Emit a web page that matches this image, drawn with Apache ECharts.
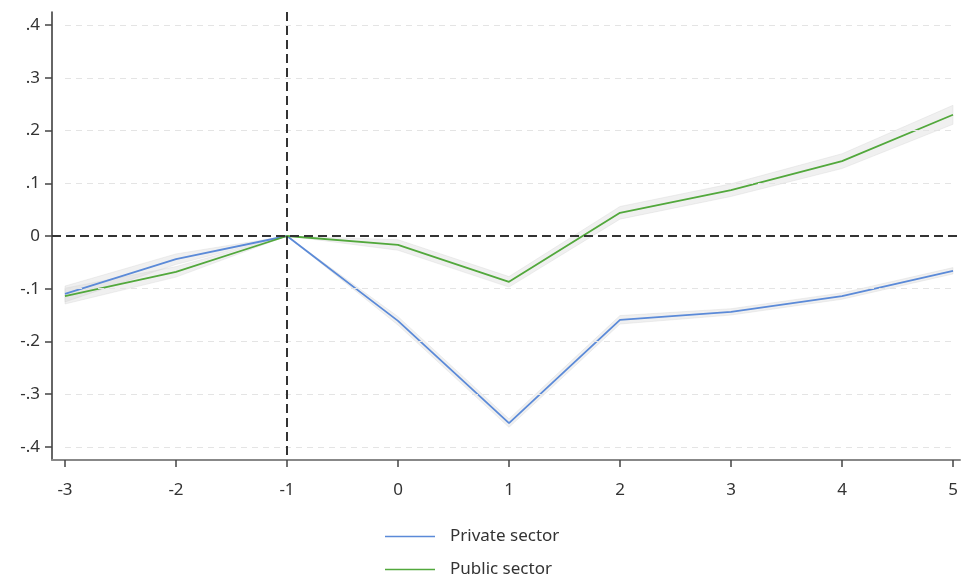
<!DOCTYPE html>
<html>
<head>
<meta charset="utf-8">
<script src="https://cdn.jsdelivr.net/npm/echarts@6/dist/echarts.min.js"></script>
<style>
  html, body { margin: 0; padding: 0; background: #fff; }
  #main { width: 964px; height: 577px; }
</style>
</head>
<body>
<div id="main"></div>
<script>
var years = [-3, -2, -1, 0, 1, 2, 3, 4, 5];
var yTicks = [-0.4, -0.3, -0.2, -0.1, 0, 0.1, 0.2, 0.3, 0.4];

var privEst = [-0.110, -0.044, 0, -0.161, -0.355, -0.159, -0.144, -0.114, -0.066];
var privLo  = [-0.125, -0.054, 0, -0.169, -0.363, -0.167, -0.150, -0.120, -0.072];
var privHi  = [-0.095, -0.034, 0, -0.153, -0.347, -0.151, -0.138, -0.108, -0.060];

var pubEst = [-0.114, -0.068, 0, -0.017, -0.087, 0.044, 0.087, 0.142, 0.230];
var pubLo  = [-0.129, -0.078, 0, -0.027, -0.097, 0.032, 0.075, 0.128, 0.212];
var pubHi  = [-0.099, -0.058, 0, -0.007, -0.077, 0.056, 0.099, 0.156, 0.248];

var FONT = 'Noto Sans';
var X_MIN = -3.117, X_MAX = 5.063;
var Y_MIN = -0.425, Y_MAX = 0.425;

function pairs(xs, ys) {
    return xs.map(function (x, i) { return [x, ys[i]]; });
}

function fmt(v) {
    if (Math.abs(v) < 1e-9) return '0';
    var s = Math.abs(v).toFixed(1).replace(/^0/, '');
    return (v < 0 ? '-' : '') + s;
}

function bandSeries(lo, hi) {
    return {
        type: 'custom',
        silent: true,
        z: 1,
        data: [0],
        renderItem: function (params, api) {
            var pts = [];
            years.forEach(function (x, i) { pts.push(api.coord([x, hi[i]])); });
            for (var i = years.length - 1; i >= 0; i--) pts.push(api.coord([years[i], lo[i]]));
            return {
                type: 'polygon',
                shape: { points: pts },
                style: { fill: 'rgba(205,205,205,0.3)', stroke: 'rgba(205,205,205,0.3)', lineWidth: 1 }
            };
        }
    };
}

function legendFor(name, top) {
    return {
        orient: 'vertical',
        left: 385,
        top: top,
        padding: 0,
        itemWidth: 50,
        itemHeight: 10,
        icon: 'path://M0,0 L50,0 L50,1.5 L0,1.5 Z',
        textStyle: { fontFamily: FONT, fontSize: 17, color: '#333', padding: [0, 0, 0, 10] },
        data: [name]
    };
}

var gridLines = yTicks.filter(function (v) { return v !== 0; }).map(function (v) {
    return [{ coord: [years[0], v] }, { coord: [years[years.length - 1], v] }];
});

var chart = echarts.init(document.getElementById('main'));

var option = {
    animation: false,
    textStyle: { fontFamily: FONT },
    grid: { left: 52, right: 4, top: 12, bottom: 117 },
    legend: [legendFor('Private sector', 528), legendFor('Public sector', 561)],
    xAxis: {
        type: 'value',
        min: X_MIN,
        max: X_MAX,
        axisLine: { onZero: false, lineStyle: { color: '#888', width: 2 } },
        axisTick: { show: true, customValues: years, length: 7, lineStyle: { color: '#444', width: 1.5 } },
        axisLabel: {
            customValues: years,
            formatter: function (v) { return String(v); },
            fontSize: 17, color: '#333', margin: 22, fontFamily: FONT
        },
        splitLine: { show: false }
    },
    yAxis: {
        type: 'value',
        min: Y_MIN,
        max: Y_MAX,
        axisLine: { show: true, onZero: false, lineStyle: { color: '#333', width: 1.5 } },
        axisTick: { show: true, customValues: yTicks, length: 7, lineStyle: { color: '#444', width: 1.5 } },
        axisLabel: {
            customValues: yTicks,
            formatter: fmt,
            fontSize: 17, color: '#333', margin: 12, fontFamily: FONT
        },
        splitLine: { show: false }
    },
    series: [
        bandSeries(privLo, privHi),
        bandSeries(pubLo, pubHi),
        {
            name: 'Private sector',
            type: 'line',
            z: 3,
            symbol: 'none',
            data: pairs(years, privEst),
            lineStyle: { color: '#5b8ad8', width: 1.8 },
            itemStyle: { color: '#5b8ad8' },
            markLine: {
                silent: true,
                symbol: 'none',
                label: { show: false },
                lineStyle: { color: '#e4e4e4', type: [6, 5], width: 1.2 },
                data: gridLines
            }
        },
        {
            name: 'Public sector',
            type: 'line',
            z: 3,
            symbol: 'none',
            data: pairs(years, pubEst),
            lineStyle: { color: '#52a83c', width: 1.8 },
            itemStyle: { color: '#52a83c' },
            markLine: {
                silent: true,
                symbol: 'none',
                label: { show: false },
                lineStyle: { color: '#333', type: [9, 5], width: 2 },
                data: [
                    [{ coord: [X_MIN, 0] }, { coord: [X_MAX, 0] }],
                    [{ coord: [-1, Y_MAX] }, { coord: [-1, Y_MIN] }]
                ]
            }
        }
    ]
};

chart.setOption(option);
</script>
</body>
</html>
